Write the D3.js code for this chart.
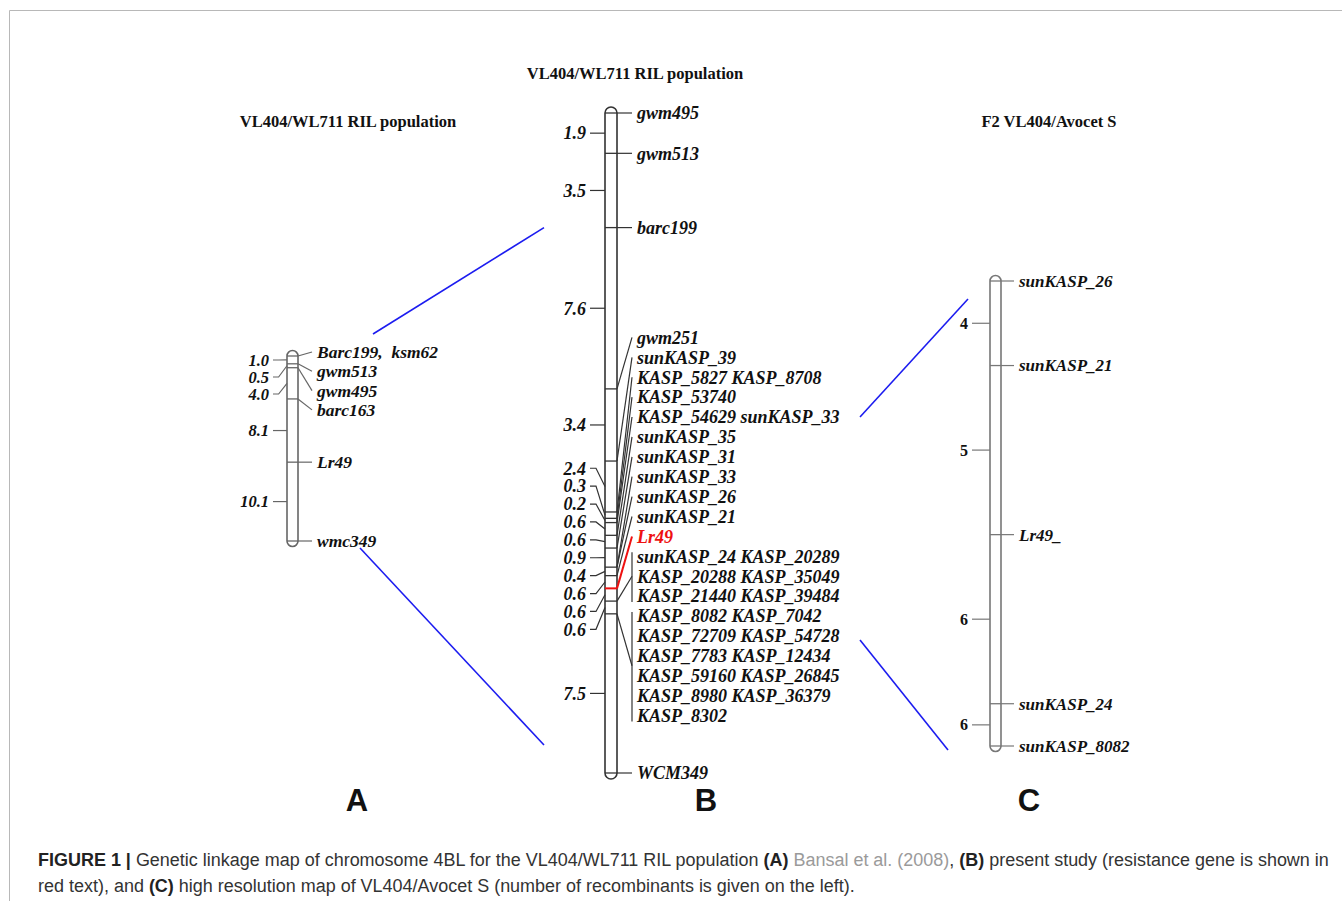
<!DOCTYPE html>
<html>
<head>
<meta charset="utf-8">
<script src="https://cdn.jsdelivr.net/npm/d3@7"></script>
<style>
  body { margin: 0; background: #fff; }
  svg { display: block; }
  .mk { font-family: "Liberation Serif", "Times New Roman", serif; font-weight: bold; font-style: italic; fill: #111; white-space: pre; }
  .num { font-family: "Liberation Serif", "Times New Roman", serif; font-weight: bold; fill: #111; }
  .ttl { font-family: "Liberation Serif", "Times New Roman", serif; font-weight: bold; fill: #111; }
  .panel { font-family: "Liberation Sans", Arial, sans-serif; font-weight: bold; fill: #111; }
  .cap { font-family: "Liberation Sans", Arial, sans-serif; fill: #333; }
</style>
</head>
<body>
<script>
var W = 1342, H = 901;

// --- map A : Bansal et al. (2008), intervals in cM
var mapA_intervals = [1.0, 0.5, 4.0, 8.1, 10.1];
var mapA_markers = [["Barc199,  ksm62"], ["gwm513"], ["gwm495"], ["barc163"], ["Lr49"], ["wmc349"]];

// --- map B : present study, intervals in cM
var mapB_intervals = [1.9, 3.5, 7.6, 3.4, 2.4, 0.3, 0.2, 0.6, 0.6, 0.9, 0.4, 0.6, 0.6, 0.6, 7.5];
var mapB_markers = [
  ["gwm495"], ["gwm513"], ["barc199"], ["gwm251"], ["sunKASP_39"],
  ["KASP_5827 KASP_8708"], ["KASP_53740"], ["KASP_54629 sunKASP_33"],
  ["sunKASP_35"], ["sunKASP_31"], ["sunKASP_33", "sunKASP_26"], ["sunKASP_21"],
  ["Lr49"],
  ["sunKASP_24 KASP_20289", "KASP_20288 KASP_35049", "KASP_21440 KASP_39484"],
  ["KASP_8082 KASP_7042", "KASP_72709 KASP_54728", "KASP_7783 KASP_12434",
   "KASP_59160 KASP_26845", "KASP_8980 KASP_36379", "KASP_8302"],
  ["WCM349"]
];
var mapB_bracketed = [13, 14];   // loci whose co-segregating markers share one bracket
var mapB_gene = "Lr49";

// --- map C : high resolution F2 map, relative positions + recombinant counts
var mapC_positions = [0, 2, 6, 10, 11];
var mapC_recombinants = [4, 5, 6, 6];
var mapC_markers = [["sunKASP_26"], ["sunKASP_21"], ["Lr49_"], ["sunKASP_24"], ["sunKASP_8082"]];

var titles = ["VL404/WL711 RIL population", "VL404/WL711 RIL population", "F2 VL404/Avocet S"];
var panels = ["A", "B", "C"];

var red = "#ee1111", blue = "#1c1cf0";

var svg = d3.select("body").append("svg").attr("width", W).attr("height", H);

// figure frame
svg.append("path").attr("d", "M" + W + ",10.5H9.5V" + H)
    .attr("fill", "none").attr("stroke", "#b8b8b8").attr("stroke-width", 1);

function cumulative(iv) {
  var p = [0];
  iv.forEach(function(v) { p.push(+(p[p.length - 1] + v).toFixed(3)); });
  return p;
}

// spread labels so they keep a min gap; a crowded cluster sits between the
// extremes of its wanted offsets (a bit towards the top, like mapchart does)
var UPBIAS = 0.43;
function spread(want, gap, minY) {
  var cl = want.map(function(d, i) { return {first: i, n: 1}; });
  function place(c) {
    var lo = Infinity, hi = -Infinity;
    for (var k = 0; k < c.n; k++) {
      var v = want[c.first + k] - k * gap;
      lo = Math.min(lo, v); hi = Math.max(hi, v);
    }
    c.top = lo + (hi - lo) * UPBIAS;
  }
  cl.forEach(place);
  var again = true;
  while (again) {
    again = false;
    for (var i = 1; i < cl.length; i++) {
      var a = cl[i - 1], b = cl[i];
      if (b.top < a.top + a.n * gap - 0.01) {
        a.n += b.n; place(a); cl.splice(i, 1); again = true; break;
      }
    }
  }
  var out = [], prev = (minY == null) ? -Infinity : minY;
  cl.forEach(function(c) {
    var t = Math.max(c.top, prev);
    for (var k = 0; k < c.n; k++) out.push(t + k * gap);
    prev = t + c.n * gap;
  });
  return out;
}

function drawMap(o) {
  var pos = o.positions;
  var y = d3.scaleLinear().domain([0, pos[pos.length - 1]]).range(o.range);
  var x0 = o.cx - o.w / 2, x1 = o.cx + o.w / 2;
  var g = svg.append("g");
  var geneLocus = -1;
  o.markers.forEach(function(m, i) { if (o.gene && m.indexOf(o.gene) >= 0) geneLocus = i; });

  g.append("rect")
      .attr("x", x0).attr("y", o.range[0] - o.w / 2)
      .attr("width", o.w).attr("height", o.range[1] - o.range[0] + o.w)
      .attr("rx", o.w / 2)
      .attr("fill", "#fff").attr("stroke", o.stroke).attr("stroke-width", 1.6);

  g.selectAll("line.locus").data(pos).join("line")
      .attr("class", "locus")
      .attr("x1", x0).attr("x2", x1)
      .attr("y1", function(d) { return y(d); }).attr("y2", function(d) { return y(d); })
      .attr("stroke", function(d, i) { return i === geneLocus ? red : o.stroke; })
      .attr("stroke-width", function(d, i) { return i === geneLocus ? 2 : 1.3; });

  // ---- marker names on the right
  var items = [];
  o.markers.forEach(function(names, i) {
    names.forEach(function(nm) { items.push({text: nm, locus: i, want: y(pos[i])}); });
  });
  var ly = spread(items.map(function(d) { return d.want; }), o.rGap, o.rMin);
  items.forEach(function(d, k) { d.ly = ly[k]; });

  var lx = x1 + o.lead;
  o.markers.forEach(function(names, i) {
    var its = items.filter(function(d) { return d.locus === i; });
    var col = i === geneLocus ? red : o.stroke;
    if (o.bracketed && o.bracketed.indexOf(i) >= 0) {
      var a = its[0].ly, b = its[its.length - 1].ly;
      g.append("path")
          .attr("d", "M" + x1 + "," + y(pos[i]) + "L" + lx + "," + ((a + b) / 2))
          .attr("fill", "none").attr("stroke", col).attr("stroke-width", 1.2);
      g.append("line")
          .attr("x1", lx).attr("x2", lx).attr("y1", a - 4).attr("y2", b + 6)
          .attr("stroke", col).attr("stroke-width", 1.2);
    } else {
      its.forEach(function(d) {
        g.append("path")
            .attr("d", "M" + x1 + "," + d.want + "L" + lx + "," + d.ly)
            .attr("fill", "none").attr("stroke", col).attr("stroke-width", i === geneLocus ? 2 : 1.2);
      });
    }
  });

  g.selectAll("text.mk").data(items).join("text")
      .attr("class", "mk")
      .attr("x", lx + 5).attr("y", function(d) { return d.ly; })
      .attr("dy", "0.35em")
      .style("font-size", o.fs + "px")
      .style("fill", function(d) { return d.locus === geneLocus ? red : null; })
      .text(function(d) { return d.text; });

  // ---- interval values on the left
  var mids = o.intervals.map(function(v, i) { return (y(pos[i]) + y(pos[i + 1])) / 2; });
  var lly = spread(mids, o.lGap, o.lMin);
  var tx = x0 - o.tick;
  o.intervals.forEach(function(v, i) {
    g.append("path")
        .attr("d", "M" + tx + "," + lly[i] + "H" + (tx + o.tick * 0.4) + "L" + x0 + "," + mids[i])
        .attr("fill", "none").attr("stroke", o.stroke).attr("stroke-width", 1.2);
    g.append("text")
        .attr("class", o.numClass)
        .attr("x", tx - 4).attr("y", lly[i]).attr("dy", "0.35em")
        .attr("text-anchor", "end")
        .style("font-size", o.nfs + "px")
        .text(o.fmt(v));
  });

  return {y: y, x0: x0, x1: x1, pos: pos, items: items};
}

var A = drawMap({
  cx: 292.5, w: 11, range: [356, 541], positions: cumulative(mapA_intervals),
  intervals: mapA_intervals, markers: mapA_markers, stroke: "#666",
  lead: 14, tick: 14, rGap: 19.3, lGap: 17, rMin: 352, lMin: 360,
  fs: 17.5, nfs: 16.5, numClass: "mk", fmt: d3.format(".1f")
});

var B = drawMap({
  cx: 611, w: 12, range: [113, 773], positions: cumulative(mapB_intervals),
  intervals: mapB_intervals, markers: mapB_markers, bracketed: mapB_bracketed, gene: mapB_gene,
  stroke: "#333", lead: 15, tick: 15, rGap: 19.9, lGap: 17.9, rMin: 113, lMin: 113,
  fs: 18, nfs: 18, numClass: "mk", fmt: d3.format(".1f")
});

var C = drawMap({
  cx: 995.5, w: 11, range: [281, 746], positions: mapC_positions,
  intervals: mapC_recombinants, markers: mapC_markers, stroke: "#777",
  lead: 13, tick: 18, rGap: 19.8, lGap: 17, rMin: 281, lMin: 281,
  fs: 17, nfs: 16, numClass: "num", fmt: d3.format("d")
});

// ---- zoom lines between the maps
function labelY(m, txt) { return m.items.filter(function(d) { return d.text === txt; })[0].ly; }
var nB = B.pos.length - 1, nA = A.pos.length - 1, nC = C.pos.length - 1;
var links = [
  [[A.x1 + 75, A.y(0) - 22], [B.x0 - 61, B.y(B.pos[2])]],
  [[A.x1 + 62, A.y(A.pos[nA]) + 7], [B.x0 - 61, B.y(B.pos[nB]) - 28]],
  [[B.x1 + 243, labelY(B, "KASP_54629 sunKASP_33")], [C.x0 - 22, C.y(0) + 18]],
  [[B.x1 + 243, labelY(B, "KASP_72709 KASP_54728") + 4], [C.x0 - 42, C.y(C.pos[nC]) + 4]]
];
svg.selectAll("path.link").data(links).join("path")
    .attr("class", "link")
    .attr("d", d3.line())
    .attr("fill", "none").attr("stroke", blue).attr("stroke-width", 1.6);

// ---- titles and panel letters
var titleX = [348, 635, 1049], titleY = [121, 73, 121], panelX = [357, 706, 1029];
svg.selectAll("text.ttl").data(titles).join("text")
    .attr("class", "ttl")
    .attr("x", function(d, i) { return titleX[i]; })
    .attr("y", function(d, i) { return titleY[i]; })
    .attr("dy", "0.35em").attr("text-anchor", "middle")
    .style("font-size", "16.5px")
    .text(function(d) { return d; });

svg.selectAll("text.panel").data(panels).join("text")
    .attr("class", "panel")
    .attr("x", function(d, i) { return panelX[i]; })
    .attr("y", 811).attr("text-anchor", "middle")
    .style("font-size", "31px")
    .text(function(d) { return d; });

// ---- caption
var cap1 = [
  ["FIGURE 1", "b"], [" | ", "b"], ["Genetic linkage map of chromosome 4BL for the VL404/WL711 RIL population ", ""],
  ["(A)", "b"], [" ", ""], ["Bansal et al. (2008)", "g"], [", ", ""], ["(B)", "b"],
  [" present study (resistance gene is shown in", ""]
];
var cap2 = [
  ["red text), and ", ""], ["(C)", "b"], [" high resolution map of VL404/Avocet S (number of recombinants is given on the left).", ""]
];
function caption(parts, yy) {
  var t = svg.append("text").attr("class", "cap").attr("x", 38).attr("y", yy).style("font-size", "17px");
  parts.forEach(function(p) {
    t.append("tspan")
        .style("font-weight", p[1] === "b" ? "bold" : null)
        .style("fill", p[1] === "g" ? "#9a9a9a" : (p[1] === "b" ? "#222" : null))
        .text(p[0]);
  });
  return t;
}
var c1 = caption(cap1, 866), c2 = caption(cap2, 892);
var fsz = 17 * 1292 / c1.node().getComputedTextLength();
c1.style("font-size", fsz + "px");
c2.style("font-size", fsz + "px");
</script>
</body>
</html>
